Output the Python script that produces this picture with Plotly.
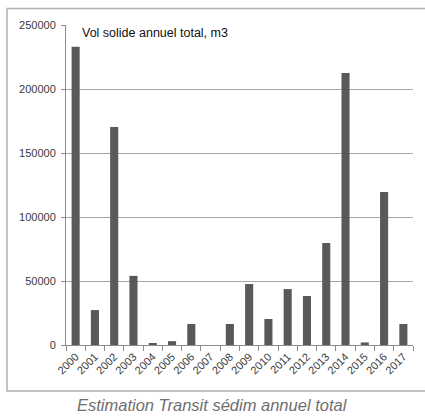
import plotly.graph_objects as go

years = [str(y) for y in range(2000, 2018)]
volumes = [233000, 27300, 170300, 54000, 1000, 3000, 16400, 0, 16400, 47600,
           20300, 43700, 38300, 79700, 212500, 2000, 119500, 16400]
y_ticks = [0, 50000, 100000, 150000, 200000, 250000]

W, H = 425, 418
L, R, T, B = 66, 12, 25, 73
pw, ph = W - L - R, H - T - B

def px(x):
    return (x - L) / pw

def py(y):
    return (H - B - y) / ph

fig = go.Figure(go.Bar(x=years, y=volumes, marker=dict(color="#595959", line=dict(width=0)), width=0.42))

fig.update_layout(
    width=W, height=H,
    margin=dict(l=L, r=R, t=T, b=B, autoexpand=False),
    paper_bgcolor="white", plot_bgcolor="white",
    showlegend=False,
    font=dict(family="Liberation Sans, Arial", color="#333333", size=11),
    bargap=0.58,
)
fig.update_xaxes(
    type="category", showgrid=False, showline=True, linecolor="#8c8c8c", linewidth=1,
    ticks="outside", tickson="boundaries", ticklen=5, tickcolor="#8c8c8c",
    tickangle=-45, tickfont=dict(size=11, color="#3a3a3a"), automargin=False,
)
fig.update_yaxes(
    range=[0, 250000], tickvals=y_ticks, ticktext=[str(v) for v in y_ticks],
    showgrid=True, gridcolor="#a6a6a6", gridwidth=1.3,
    showline=True, linecolor="#8c8c8c", linewidth=1,
    ticks="outside", ticklen=4, tickcolor="#8c8c8c", ticklabelstandoff=3,
    tickfont=dict(size=11, color="#3a3a3a"), zeroline=False, automargin=False,
)

# outer frame
fig.add_shape(type="rect", xref="paper", yref="paper",
              x0=px(7), x1=px(440), y0=py(391), y1=py(8.5),
              line=dict(color="#b0b0b0", width=1.5), fillcolor="rgba(0,0,0,0)", layer="below")

fig.add_annotation(xref="paper", yref="paper", x=px(80), y=py(33),
                   text="Vol solide annuel total, m3", showarrow=False,
                   xanchor="left", yanchor="middle",
                   font=dict(size=12.5, color="#111111", family="Liberation Sans, Arial"))

fig.add_annotation(xref="paper", yref="paper", x=px(212), y=py(405),
                   text="<i>Estimation Transit sédim annuel total</i>", showarrow=False,
                   xanchor="center", yanchor="middle",
                   font=dict(size=16.5, color="#6e6e6e", family="Liberation Sans, Arial"))

fig.write_html("out.html", config={"displayModeBar": False},
               post_script="document.body.style.margin='0';document.body.style.padding='0';document.body.style.overflow='hidden';")
